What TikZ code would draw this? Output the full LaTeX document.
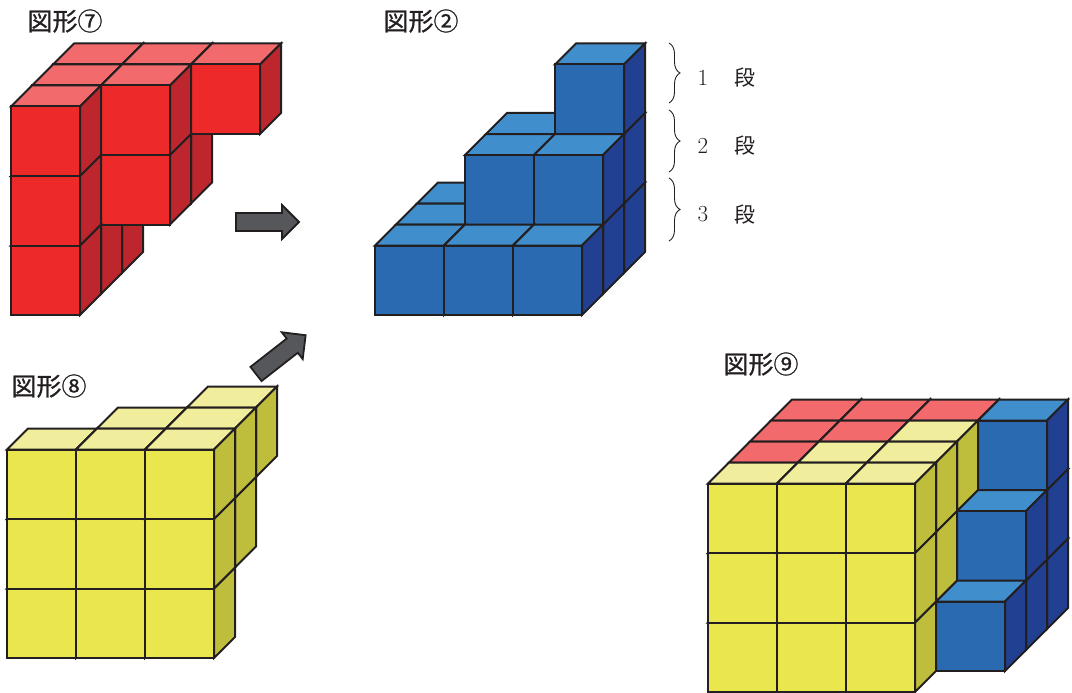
\documentclass[tikz,border=0pt]{standalone}
\usepackage{fontspec}
\newfontfamily\jp{Noto Sans CJK JP}
\newfontfamily\jpbold{Noto Sans CJK JP}[FakeBold=0.8]
\usetikzlibrary{decorations.pathreplacing}

\definecolor{edge}{RGB}{35,31,32}
\definecolor{arrowgray}{RGB}{85,87,90}
\definecolor{redfront}{RGB}{237,41,41}
\definecolor{redtop}{RGB}{242,106,108}
\definecolor{redside}{RGB}{190,38,46}
\definecolor{bluefront}{RGB}{41,106,177}
\definecolor{bluetop}{RGB}{64,142,203}
\definecolor{blueside}{RGB}{33,64,145}
\definecolor{yelfront}{RGB}{233,230,78}
\definecolor{yeltop}{RGB}{240,238,156}
\definecolor{yelside}{RGB}{191,190,60}

% one cube: column, level, depth, colour
\newcommand{\cubeat}[4]{%
  \pgfmathsetmacro{\cx}{#1*69+#3*21}%
  \pgfmathsetmacro{\cy}{#2*69.5+#3*21}%
  \draw[cubeline, fill=#4top] (\cx,\cy+69.5) -- ++(69,0) -- ++(21,21) -- ++(-69,0) -- cycle;
  \draw[cubeline, fill=#4side] (\cx+69,\cy) -- ++(21,21) -- ++(0,69.5) -- ++(-21,-21) -- cycle;
  \draw[cubeline, fill=#4front] (\cx,\cy) rectangle ++(69,69.5);
}

\begin{document}
\begin{tikzpicture}[x=1pt, y=1pt,
	cubeline/.style={draw=edge, line width=2pt},
	blockarrow/.style={draw=edge, line width=1.8pt, fill=arrowgray},
	title/.style={font=\jpbold\fontsize{25}{30}\selectfont, text=edge},
	brc/.style={decorate, decoration={brace, amplitude=11pt}, draw=edge, line width=0.9pt},
	lvl/.style={font=\fontsize{23}{28}\selectfont, text=edge},
	lvljp/.style={font=\jp\fontsize{21}{26}\selectfont, text=edge}]
	\useasboundingbox (0,0) rectangle (1072,-693);
	
	%figure 7
	\node[title] (t7) at (65,-21){図形⑦};
	\begin{scope}[shift={(11,-315)}]
		\foreach \x/\y/\d in {0/0/2, 0/1/2, 1/1/2, 0/2/2, 1/2/2, 2/2/2,
			0/0/1, 0/1/1, 1/1/1, 0/2/1, 1/2/1,
			0/0/0, 0/1/0, 0/2/0}{
			\cubeat{\x}{\y}{\d}{red}
		}
	\end{scope}
	
	%figure 2
	\node[title] (t2) at (421,-21){図形②};
	\begin{scope}[shift={(375,-315)}]
		\foreach \x/\y/\d in {0/0/2, 1/0/2, 2/0/2, 1/1/2, 2/1/2, 2/2/2,
			0/0/1, 1/0/1, 2/0/1, 1/1/1, 2/1/1,
			0/0/0, 1/0/0, 2/0/0}{
			\cubeat{\x}{\y}{\d}{blue}
		}
	\end{scope}
	
	%levels
	\foreach \ytop/\ybot/\n in {43/103/1, 110/172/2, 178/241/3}{
		\draw[brc] (669,-\ytop) -- (669,-\ybot);
		\node[lvl] (n\n) at (703,{-(\ytop+\ybot)/2-5}){\n};
		\node[lvljp] (k\n) at (745,{-(\ytop+\ybot)/2-5}){段};
	}
	
	%figure 8
	\node[title] (t8) at (49,-386){図形⑧};
	\begin{scope}[shift={(7,-658)}]
		\foreach \x/\y/\d in {2/2/2,
			1/1/1, 2/1/1, 1/2/1, 2/2/1,
			0/0/0, 1/0/0, 2/0/0, 0/1/0, 1/1/0, 2/1/0, 0/2/0, 1/2/0, 2/2/0}{
			\cubeat{\x}{\y}{\d}{yel}
		}
	\end{scope}
	
	%figure 9
	\node[title] (t9) at (761,-364){図形⑨};
	\begin{scope}[shift={(708,-692)}]
		\foreach \x/\y/\d/\c in {3/0/3/blue, 3/1/3/blue, 0/2/3/red, 1/2/3/red, 2/2/3/red, 3/2/3/blue,
			3/0/2/blue, 3/1/2/blue, 0/2/2/red, 1/2/2/red, 2/2/2/yel,
			3/0/1/blue, 2/1/1/yel, 0/2/1/red, 1/2/1/yel, 2/2/1/yel,
			0/0/0/yel, 1/0/0/yel, 2/0/0/yel, 0/1/0/yel, 1/1/0/yel, 2/1/0/yel, 0/2/0/yel, 1/2/0/yel, 2/2/0/yel}{
			\cubeat{\x}{\y}{\d}{\c}
		}
	\end{scope}
	
	%arrows
	\foreach \px/\py/\ang in {236/-222/0, 256/-374/38}{
		\draw[blockarrow, shift={(\px,\py)}, rotate=\ang] (0,-9) -- (46,-9) -- (46,-17) -- (63,0) -- (46,17) -- (46,9) -- (0,9) -- cycle;
	}
\end{tikzpicture}
\end{document}
